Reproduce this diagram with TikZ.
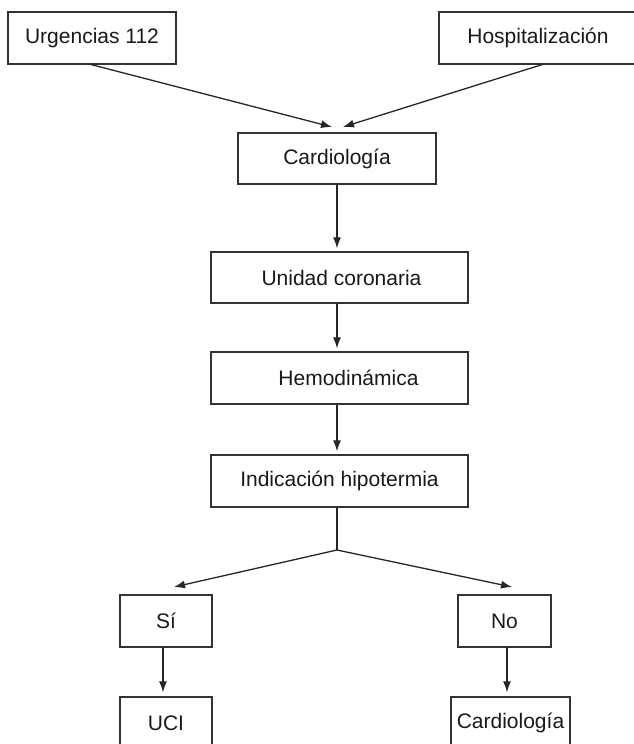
\documentclass[tikz,border=0pt]{standalone}
\usepackage{fontspec}
\setmainfont{Liberation Sans}
\usetikzlibrary{arrows.meta}
\begin{document}
\begin{tikzpicture}[x=1pt,y=1pt,
  box/.style={draw=black!80,line width=1.4pt,fill=white,inner sep=0pt,
    font=\fontsize{21}{25}\selectfont,text=black!90},
  conn/.style={draw=black!85,line width=1.3pt},
  arr/.style={conn,-{Latex[length=11pt,width=8pt]},shorten >=3pt}]
\path[use as bounding box,clip] (0,0) rectangle (634,-744);
\fill[white] (0,0) rectangle (634,-744);
\node[box,minimum width=168pt,minimum height=52pt] (urg) at (92,-38) {Urgencias 112};
\node[box,minimum width=198pt,minimum height=52pt] (hosp) at (538,-38) {Hospitalización};
\node[box,minimum width=198pt,minimum height=51pt] (card) at (337,-158.5) {Cardiología};
\node[box,minimum width=257pt,minimum height=51pt] (unid) at (339.5,-277.5) {\hspace*{4pt}Unidad coronaria};
\node[box,minimum width=257pt,minimum height=52pt] (hemo) at (339.5,-378) {\hspace*{18pt}Hemodinámica};
\node[box,minimum width=257pt,minimum height=52pt] (ind) at (339.5,-481) {Indicación hipotermia};
\node[box,minimum width=92pt,minimum height=52pt] (si) at (166,-621) {Sí};
\node[box,minimum width=93pt,minimum height=52pt] (no) at (504.5,-621) {No};
\node[box,minimum width=92pt,minimum height=52pt] (uci) at (166,-723) {UCI};
\node[box,minimum width=119pt,minimum height=52pt] (card2) at (510.5,-723) {Cardiología};
\coordinate (ua) at (89,-64);
\coordinate (ha) at (544,-64);
\coordinate (tl) at (332,-127);
\coordinate (tr) at (343,-127);
\coordinate (split) at (337,-550);
\coordinate (sl) at (174,-587);
\coordinate (sr) at (512,-587);
\draw[arr,shorten >=0pt] (ua) -- (tl);
\draw[arr,shorten >=0pt] (ha) -- (tr);
\draw[arr] (card.south) -- (card.south |- unid.north);
\draw[arr] (card.south |- unid.south) -- (card.south |- hemo.north);
\draw[arr] (card.south |- hemo.south) -- (card.south |- ind.north);
\draw[conn] (card.south |- ind.south) -- (split);
\draw[arr,shorten >=0pt] (split) -- (sl);
\draw[arr,shorten >=0pt] (split) -- (sr);
\draw[arr,shorten >=4pt] ([xshift=-3pt]si.south) -- ([xshift=-3pt]uci.north);
\draw[arr,shorten >=4pt] ([xshift=2.5pt]no.south) -- ([xshift=2.5pt]no.south |- card2.north);
\end{tikzpicture}
\end{document}
